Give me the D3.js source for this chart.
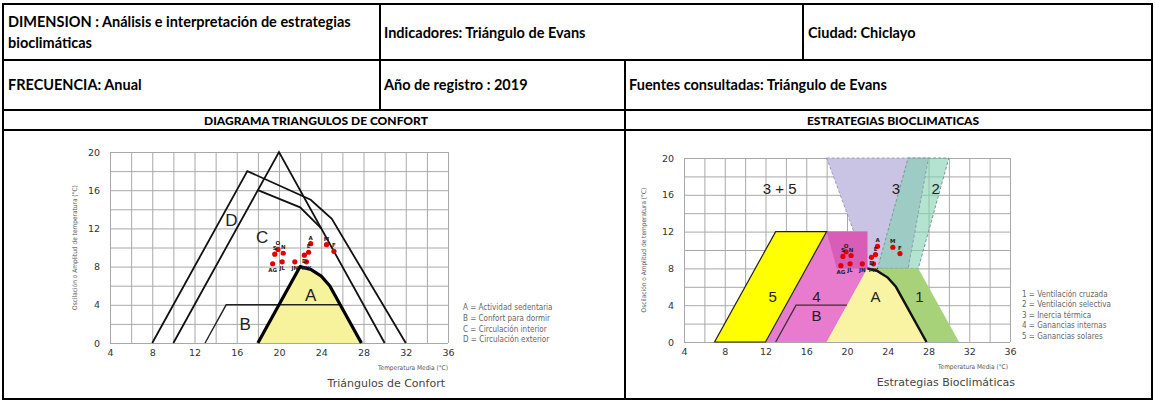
<!DOCTYPE html>
<html lang="es">
<head>
<meta charset="UTF-8">
<title>Triángulos de Evans - Chiclayo</title>
<script src="https://d3js.org/d3.v7.min.js"></script>
<style>
    body { margin: 0; background: #fff; }
    svg { display: block; }
    .cell { font-family: Lato, 'Open Sans', sans-serif; font-weight: bold; font-size: 14.5px; fill: #000; }
    .head { font-family: Lato, 'Open Sans', sans-serif; font-weight: 900; font-size: 12px; fill: #000; }
    .tick text { font-family: 'DejaVu Sans', sans-serif; font-size: 9.5px; fill: #333; }
    .grid line { stroke: #a8a8a8; stroke-width: 1; }
    .zone-label { font-family: 'Liberation Sans', Arial, sans-serif; fill: #222; }
    .legend { font-family: 'DejaVu Sans Condensed', 'DejaVu Sans', sans-serif; font-size: 8px; fill: #666; }
    .axis-title { font-family: 'DejaVu Sans Condensed', 'DejaVu Sans', sans-serif; font-size: 6.5px; fill: #555; }
    .chart-title { font-family: 'DejaVu Sans', sans-serif; font-size: 11px; fill: #444; }
    .mlabel { font-family: 'DejaVu Sans', sans-serif; font-size: 5.5px; font-weight: bold; fill: #222; }
</style>
</head>
<body>
<svg width="1155" height="402"></svg>
<script>
    // ---- datos ----
    // meses 2019 (Chiclayo): temperatura media y oscilacion
    const months = ["E", "F", "M", "A", "MY", "JN", "JL", "AG", "S", "O", "N", "D"];
    const meanTemp = [22.8, 25.2, 24.5, 23.0, 22.6, 21.5, 20.3, 19.4, 19.6, 19.9, 20.4, 22.4];
    const amplitude = [9.5, 9.6, 10.3, 10.4, 8.5, 8.5, 8.5, 8.3, 9.3, 9.8, 9.4, 9.2];

    const xTicks = [4, 8, 12, 16, 20, 24, 28, 32, 36];
    const yTicks = [0, 4, 8, 12, 16, 20];

    // triangulos de confort (temp media, oscilacion)
    const zoneA = [[18, 0], [22, 8], [23, 7.7], [24, 7.0], [24.8, 6.0], [27.8, 0]];
    const lineB = [[13, 0], [15, 4], [25.8, 4]];
    const lineC = [[10, 0], [20, 20], [30, 0]];
    const lineCtop = [[18, 16], [22, 14.2], [24, 12]];
    const lineD = [[8, 0], [17, 18], [23, 15], [25, 13], [32, 0]];

    // estrategias bioclimaticas
    const zone1 = [[22, 8], [27, 8], [31, 0], [18, 0]];
    const zone2 = [[26, 20], [30, 20], [27, 8], [23, 8]];
    const zone3 = [[18, 20], [28, 20], [26, 8], [22, 8]];
    const zone4 = [[12, 0], [18, 12], [22, 12], [22, 8], [18, 0]];
    const zone4core = [[18, 12], [22, 12], [22, 8], [19, 8]];
    const zone5 = [[7, 0], [12, 0], [18, 12], [13, 12]];
    const lineBright = [[13, 0], [15, 4], [20, 4]];

    const legendLeft = ["A = Actividad sedentaria", "B = Confort para dormir", "C = Circulación interior", "D = Circulación exterior"];
    const legendRight = ["1 = Ventilación cruzada", "2 = Ventilación selectiva", "3 = Inercia térmica", "4 = Ganancias internas", "5 = Ganancias solares"];

    const svg = d3.select("svg");

    // ---- tabla ----
    svg.append("rect").attr("x", 3).attr("y", 4).attr("width", 1149).attr("height", 395)
        .attr("fill", "none").attr("stroke", "#000").attr("stroke-width", 2);
    const tableLines = [
        [3, 60, 1152, 60], [3, 110, 1152, 110], [3, 130, 1152, 130],
        [380, 4, 380, 110], [803, 4, 803, 60], [625, 60, 625, 399]
    ];
    svg.selectAll("line.tbl").data(tableLines).enter().append("line")
        .attr("class", "tbl")
        .attr("x1", d => d[0]).attr("y1", d => d[1]).attr("x2", d => d[2]).attr("y2", d => d[3])
        .attr("stroke", "#000").attr("stroke-width", 2);

    const cells = [
        { t: "DIMENSION : Análisis e interpretación de estrategias", x: 8, y: 27 },
        { t: "bioclimáticas", x: 8, y: 48 },
        { t: "Indicadores: Triángulo de Evans", x: 384, y: 38 },
        { t: "Ciudad: Chiclayo", x: 808, y: 38 },
        { t: "FRECUENCIA: Anual", x: 8, y: 90 },
        { t: "Año de registro : 2019", x: 384, y: 90 },
        { t: "Fuentes consultadas: Triángulo de Evans", x: 629, y: 90 }
    ];
    svg.selectAll("text.cell").data(cells).enter().append("text")
        .attr("class", "cell").attr("x", d => d.x).attr("y", d => d.y).text(d => d.t);

    svg.append("text").attr("class", "head").attr("x", 316).attr("y", 124.5)
        .attr("text-anchor", "middle").text("DIAGRAMA TRIANGULOS DE CONFORT");
    svg.append("text").attr("class", "head").attr("x", 893).attr("y", 124.5)
        .attr("text-anchor", "middle").text("ESTRATEGIAS BIOCLIMATICAS");

    // ---- graficos ----
    const xL = d3.scaleLinear().domain([4, 36]).range([110, 448]);
    const yL = d3.scaleLinear().domain([0, 20]).range([343, 152]);
    const xR = d3.scaleLinear().domain([4, 36]).range([684, 1010]);
    const yR = d3.scaleLinear().domain([0, 20]).range([342, 158]);

    function drawGrid(g, x, y) {
        g.append("g").attr("class", "grid")
            .attr("transform", `translate(0,${y(0)})`)
            .call(d3.axisBottom(x).ticks(16).tickSize(y(20) - y(0)).tickFormat(""))
            .call(s => s.select(".domain").remove());
        g.append("g").attr("class", "grid")
            .attr("transform", `translate(${x(4)},0)`)
            .call(d3.axisLeft(y).ticks(10).tickSize(x(4) - x(36)).tickFormat(""))
            .call(s => s.select(".domain").remove());

        g.append("g")
            .attr("transform", `translate(0,${y(0) + 3})`)
            .call(d3.axisBottom(x).tickValues(xTicks).tickSize(0))
            .call(s => s.select(".domain").remove());
        g.append("g")
            .attr("transform", `translate(${x(4) - 7},0)`)
            .call(d3.axisLeft(y).tickValues(yTicks).tickSize(0))
            .call(s => s.select(".domain").remove());
    }

    function drawPoints(g, x, y) {
        const pts = months.map((m, i) => ({ m: m, t: meanTemp[i], a: amplitude[i] }));
        g.selectAll("circle.pt").data(pts).enter().append("circle")
            .attr("class", "pt")
            .attr("cx", d => x(d.t)).attr("cy", d => y(d.a))
            .attr("r", 2.6).attr("fill", "#e00000");
        g.selectAll("text.mlabel").data(pts).enter().append("text")
            .attr("class", "mlabel")
            .attr("x", d => x(d.t))
            .attr("y", d => d.a >= 9.3 ? y(d.a) - 4 : y(d.a) + 8)
            .attr("text-anchor", "middle")
            .text(d => d.m);
    }

    // ===== izquierda: triangulos de confort =====
    const gl = svg.append("g");
    drawGrid(gl, xL, yL);
    const lineL = d3.line().x(d => xL(d[0])).y(d => yL(d[1]));

    gl.append("path").attr("d", lineL(zoneA) + "Z")
        .attr("fill", "#f7f29c").attr("stroke", "none");
    gl.append("path").attr("d", lineL(lineB))
        .attr("fill", "none").attr("stroke", "#222").attr("stroke-width", 1.4);
    gl.append("path").attr("d", lineL(zoneA))
        .attr("fill", "none").attr("stroke", "#000").attr("stroke-width", 3.2).attr("stroke-linejoin", "round");
    [lineC, lineCtop, lineD].forEach(l => {
        gl.append("path").attr("d", lineL(l))
            .attr("fill", "none").attr("stroke", "#111").attr("stroke-width", 1.8);
    });

    const lettersL = [{ t: "D", v: [15.5, 12.8] }, { t: "C", v: [18.4, 11.0] }, { t: "A", v: [23.0, 5.0] }, { t: "B", v: [16.8, 1.9] }];
    gl.selectAll("text.zone-label").data(lettersL).enter().append("text")
        .attr("class", "zone-label")
        .attr("x", d => xL(d.v[0])).attr("y", d => yL(d.v[1]))
        .attr("text-anchor", "middle").attr("dominant-baseline", "central")
        .style("font-size", "17px").text(d => d.t);

    drawPoints(gl, xL, yL);

    gl.selectAll("text.legend").data(legendLeft).enter().append("text")
        .attr("class", "legend").attr("x", 463).attr("y", (d, i) => 310 + i * 10.8).text(d => d);

    gl.append("text").attr("class", "axis-title").attr("x", 448).attr("y", 370)
        .attr("text-anchor", "end").text("Temperatura Media (°C)");
    gl.append("text").attr("class", "chart-title").attr("x", 445).attr("y", 387)
        .attr("text-anchor", "end").text("Triángulos de Confort");
    gl.append("text").attr("class", "axis-title")
        .attr("transform", `translate(77,${yL(10)}) rotate(-90)`)
        .attr("text-anchor", "middle").text("Oscilación o Amplitud de temperatura (°C)");

    // ===== derecha: estrategias bioclimaticas =====
    const gr = svg.append("g");
    drawGrid(gr, xR, yR);
    const lineR = d3.line().x(d => xR(d[0])).y(d => yR(d[1]));

    gr.append("path").attr("d", lineR(zone3) + "Z").attr("fill", "#c9c4e3");
    gr.append("path").attr("d", lineR(zone2) + "Z")
        .attr("fill", "#82d2b1").attr("fill-opacity", 0.6)
        .attr("stroke", "#6f9f94").attr("stroke-width", 1).attr("stroke-dasharray", "3,2");
    gr.append("path").attr("d", lineR(zone3) + "Z")
        .attr("fill", "none").attr("stroke", "#8c8aa8").attr("stroke-width", 0.8).attr("stroke-dasharray", "3,2");
    gr.append("path").attr("d", lineR(zone1) + "Z").attr("fill", "#a8d27a");
    gr.append("path").attr("d", lineR(zone4) + "Z").attr("fill", "#e87bcd");
    gr.append("path").attr("d", lineR(zone4core) + "Z").attr("fill", "#d85db7");
    gr.append("path").attr("d", lineR(zone5) + "Z")
        .attr("fill", "#ffff00").attr("stroke", "#222").attr("stroke-width", 1.2);
    gr.append("path").attr("d", lineR(zoneA) + "Z").attr("fill", "#f8f4a4");
    gr.append("path").attr("d", lineR(zoneA.slice(1)))
        .attr("fill", "none").attr("stroke", "#111").attr("stroke-width", 2.4);
    gr.append("path").attr("d", lineR(lineBright))
        .attr("fill", "none").attr("stroke", "#333").attr("stroke-width", 1.3);

    const lettersR = [
        { t: "3 + 5", v: [13.4, 16.7] }, { t: "3", v: [24.8, 16.7] }, { t: "2", v: [28.7, 16.7] },
        { t: "5", v: [12.7, 4.9] }, { t: "4", v: [17.0, 4.9] }, { t: "B", v: [17.0, 2.9] },
        { t: "A", v: [22.8, 4.9] }, { t: "1", v: [27.1, 4.9] }
    ];
    gr.selectAll("text.zone-label").data(lettersR).enter().append("text")
        .attr("class", "zone-label")
        .attr("x", d => xR(d.v[0])).attr("y", d => yR(d.v[1]))
        .attr("text-anchor", "middle").attr("dominant-baseline", "central")
        .style("font-size", "15px").text(d => d.t);

    drawPoints(gr, xR, yR);

    gr.selectAll("text.legend").data(legendRight).enter().append("text")
        .attr("class", "legend").attr("x", 1022).attr("y", (d, i) => 297 + i * 10.4).text(d => d);

    gr.append("text").attr("class", "axis-title").attr("x", 1008).attr("y", 369)
        .attr("text-anchor", "end").text("Temperatura Media (°C)");
    gr.append("text").attr("class", "chart-title").attr("x", 1015).attr("y", 386)
        .attr("text-anchor", "end").text("Estrategias Bioclimáticas");
    gr.append("text").attr("class", "axis-title")
        .attr("transform", `translate(646,${yR(10)}) rotate(-90)`)
        .attr("text-anchor", "middle").text("Oscilación o Amplitud de temperatura (°C)");
</script>
</body>
</html>
